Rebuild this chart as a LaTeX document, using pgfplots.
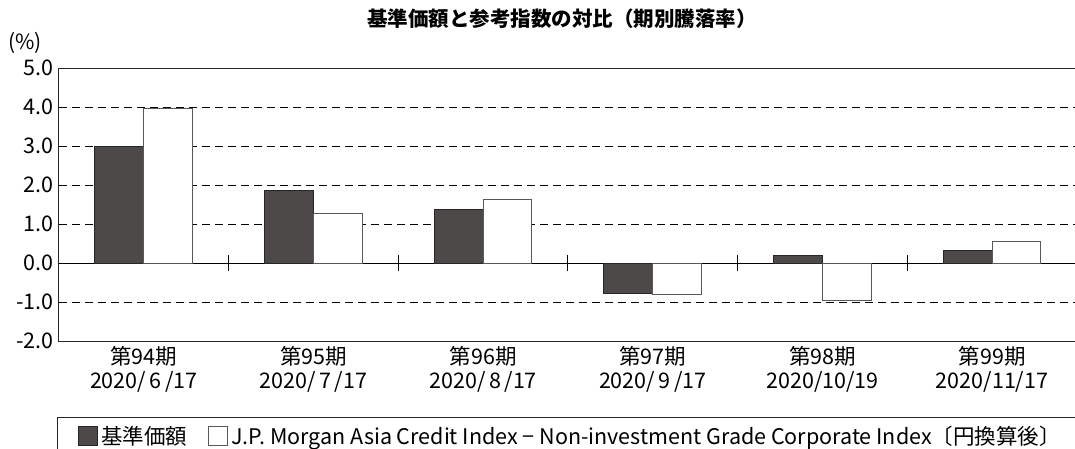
\documentclass[border=0pt]{standalone}
\usepackage{fontspec}
\setmainfont{Noto Sans CJK JP}
\usepackage{pgfplots}
\pgfplotsset{compat=1.18}
\definecolor{darkbar}{RGB}{77,73,72}
\begin{document}
\begin{tikzpicture}
\path[use as bounding box, clip] (0bp,0bp) rectangle (1075bp,449bp);
\node[font=\bfseries\fontsize{20.5bp}{22bp}\selectfont] at (562bp,430bp) {基準価額と参考指数の対比（期別騰落率）};
\node[font=\fontsize{21bp}{22bp}\selectfont, anchor=west, inner sep=0pt] at (8bp,406bp) {(\%)};
\begin{axis}[
  at={(59bp,108bp)}, anchor=south west,
  scale only axis, width=1018bp, height=273bp,
  xmin=-0.5, xmax=5.5, ymin=-2, ymax=5,
  axis line style={black!85, line width=1bp},
  ytick={-2,-1,1,2,3,4,5},
  extra y ticks={0},
  extra y tick style={ymajorgrids=true, major grid style={solid, black, line width=1bp}},
  ymajorgrids=true,
  major grid style={black, line width=1bp, dash pattern=on 8bp off 5bp},
  major tick length=0pt,
  /pgf/number format/fixed, /pgf/number format/fixed zerofill, /pgf/number format/precision=1, /pgf/number format/assume math mode=true,
  ticklabel style={font=\fontsize{21.5bp}{24bp}\selectfont},
  yticklabel style={inner sep=0pt, xshift=-5bp},
  xtick={0,1,2,3,4,5},
  xticklabels={{第94期\\2020/\,6\,/17},{第95期\\2020/\,7\,/17},{第96期\\2020/\,8\,/17},{第97期\\2020/\,9\,/17},{第98期\\2020/10/19},{第99期\\2020/11/17}},
  xticklabel style={align=center, inner sep=0pt, yshift=-5bp},
  ybar=0pt, bar width=0.288,
  legend style={draw=black!85, line width=1bp, at={(0,0)}, anchor=north west, xshift=-2bp, yshift=-76bp,
    legend columns=-1, inner xsep=20bp, inner ysep=7bp,
    font=\fontsize{21.5bp}{23bp}\selectfont,
    /tikz/every even column/.append style={column sep=16bp},
    nodes={inner xsep=4bp}},
  legend image code/.code={\draw[#1, line width=1bp] (0bp,-9.5bp) rectangle (19bp,9.5bp);},
]
\addplot[fill=darkbar, draw=black!85, line width=1bp] coordinates {(0,2.98) (1,1.85) (2,1.36) (3,-0.79) (4,0.19) (5,0.33)};
\addplot[fill=white, draw=black!65, line width=1bp] coordinates {(0,3.97) (1,1.28) (2,1.64) (3,-0.82) (4,-0.97) (5,0.56)};
\legend{基準価額, J.P. Morgan Asia Credit Index − Non-investment Grade Corporate Index〔円換算後〕\hspace{40bp}}
\draw[black, line width=1bp] ([yshift=-8bp]axis cs:0.5,0) -- ([yshift=8bp]axis cs:0.5,0);
\draw[black, line width=1bp] ([yshift=-8bp]axis cs:1.5,0) -- ([yshift=8bp]axis cs:1.5,0);
\draw[black, line width=1bp] ([yshift=-8bp]axis cs:2.5,0) -- ([yshift=8bp]axis cs:2.5,0);
\draw[black, line width=1bp] ([yshift=-8bp]axis cs:3.5,0) -- ([yshift=8bp]axis cs:3.5,0);
\draw[black, line width=1bp] ([yshift=-8bp]axis cs:4.5,0) -- ([yshift=8bp]axis cs:4.5,0);
\end{axis}
\end{tikzpicture}
\end{document}
